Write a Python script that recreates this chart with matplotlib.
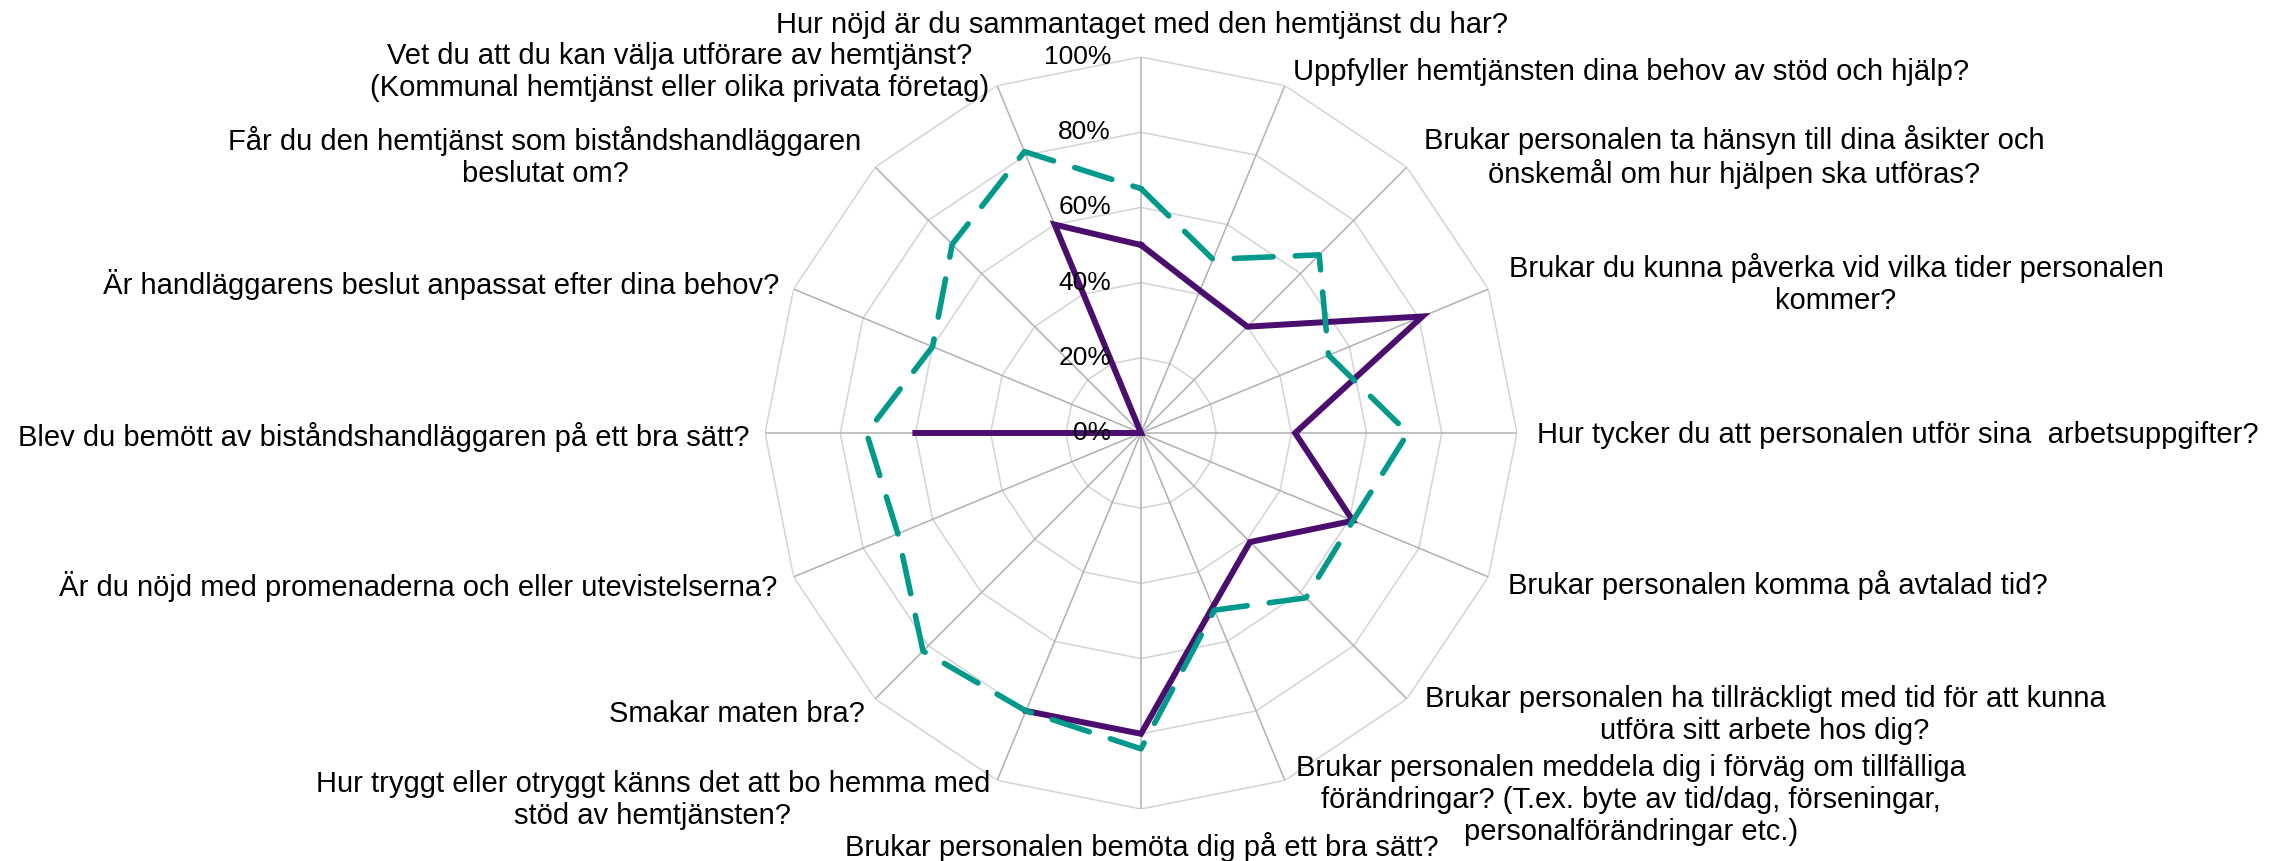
import numpy as np
import matplotlib
matplotlib.use("Agg")
import matplotlib.pyplot as plt
from matplotlib.transforms import offset_copy

plt.rcParams['font.family'] = ['Liberation Sans', 'DejaVu Sans']

# frågor, medurs från toppen
fragor = [
    "Hur nöjd är du sammantaget med den hemtjänst du har?",
    "Uppfyller hemtjänsten dina behov av stöd och hjälp?",
    "Brukar personalen ta hänsyn till dina åsikter och\nönskemål om hur hjälpen ska utföras?",
    "Brukar du kunna påverka vid vilka tider personalen\nkommer?",
    "Hur tycker du att personalen utför sina  arbetsuppgifter?",
    "Brukar personalen komma på avtalad tid?",
    "Brukar personalen ha tillräckligt med tid för att kunna\nutföra sitt arbete hos dig?",
    "Brukar personalen meddela dig i förväg om tillfälliga\nförändringar? (T.ex. byte av tid/dag, förseningar,\npersonalförändringar etc.)",
    "Brukar personalen bemöta dig på ett bra sätt?",
    "Hur tryggt eller otryggt känns det att bo hemma med\nstöd av hemtjänsten?",
    "Smakar maten bra?",
    "Är du nöjd med promenaderna och eller utevistelserna?",
    "Blev du bemött av biståndshandläggaren på ett bra sätt?",
    "Är handläggarens beslut anpassat efter dina behov?",
    "Får du den hemtjänst som biståndshandläggaren\nbeslutat om?",
    "Vet du att du kan välja utförare av hemtjänst?\n(Kommunal hemtjänst eller olika privata företag)",
]

# procent, nan = inget svar
lila = [50, 41, 40, 81, 41, 61, 41, 50, 80, 80, np.nan, np.nan, 60, 0, 0, 60]
turkos = [65, 50, 67, 54, 71, 61, 62, 51, 84, 80, 82, 70, 73, 60, 71, 81]

ticks = [0, 20, 40, 60, 80, 100]
tick_labels = ["0%", "20%", "40%", "60%", "80%", "100%"]

W, H = 2292, 861
fig = plt.figure(figsize=(W / 100, H / 100), dpi=100)

# pol-axel: centrum (1141, 433), radie 376 px
cx, cy, R = 1141, 433, 376
ax = fig.add_axes([(cx - R) / W, (H - cy - R) / H, 2 * R / W, 2 * R / H], projection='polar')
ax.set_theta_zero_location('N')
ax.set_theta_direction(-1)
ax.set_ylim(0, 100)
ax.grid(False)
ax.set_xticks([])
ax.set_yticks([])
ax.spines['polar'].set_visible(False)

n = len(fragor)
theta = np.arange(n) * 2 * np.pi / n
theta_c = np.append(theta, theta[0])

# nät
for r in ticks[1:]:
    ax.plot(theta_c, [r] * (n + 1), color='#D3D3D3', lw=1.1, zorder=1)
for t in theta:
    ax.plot([t, t], [0, 100], color='#B0B0B0', lw=1.1, zorder=1)

ax.plot(theta_c, lila + lila[:1], color='#4B0E6E', lw=4.3, zorder=3,
        solid_joinstyle='miter')
ax.plot(theta_c, turkos + turkos[:1], color='#00998C', lw=4.0, zorder=4,
        linestyle=(0, (7, 4)), dash_capstyle='round')

# procentetiketter längs toppaxeln
tr = offset_copy(ax.transData, fig=fig, x=-30, y=0, units='dots')
for v, s in zip(ticks, tick_labels):
    ax.text(0, v, s, transform=tr, ha='right', va='center', fontsize=19)

# etiketternas placering (px från vänster, px från toppen, justering)
pos = [
    (1142, 25, 'center'), (1293, 72, 'left'), (1734, 157, 'center'),
    (1836, 284, 'center'), (1537, 435, 'left'), (1508, 585, 'left'),
    (1765, 715, 'center'), (1631, 800, 'center'), (1142, 847, 'center'),
    (653, 800, 'center'), (865, 714, 'right'), (777, 587, 'right'),
    (749, 437, 'right'), (779, 284, 'right'), (545, 157, 'center'),
    (680, 72, 'center'),
]
for s, (x, y, ha) in zip(fragor, pos):
    fig.text(x / W, 1 - y / H, s, ha=ha, va='center', multialignment='center',
             fontsize=21)

fig.savefig('out.png', dpi=100, facecolor='white')
